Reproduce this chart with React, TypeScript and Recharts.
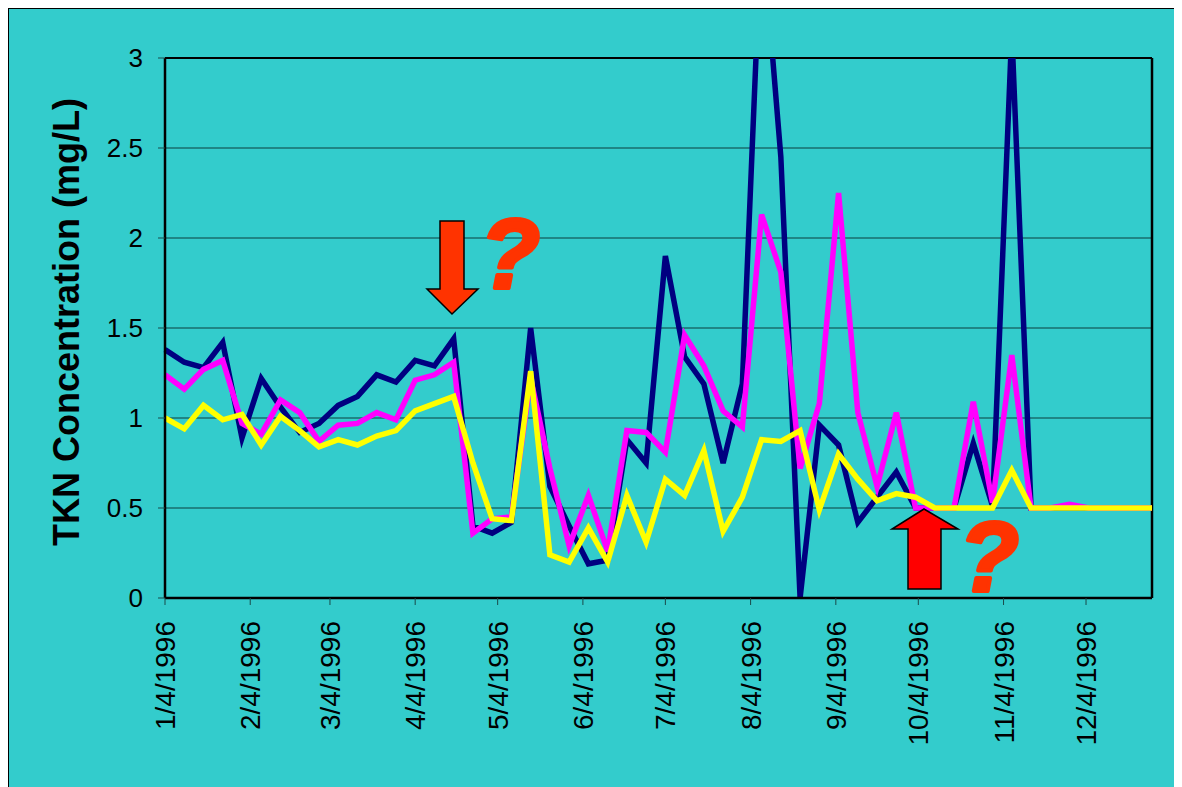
import React from "react";
import {
  LineChart,
  Line,
  XAxis,
  YAxis,
  CartesianGrid,
  ReferenceLine
} from "recharts";

// sampling dates (weekly)
const dates = [
  "1/4/1996", "1/11/1996", "1/18/1996", "1/25/1996",
  "2/1/1996", "2/8/1996", "2/15/1996", "2/22/1996", "2/29/1996",
  "3/7/1996", "3/14/1996", "3/21/1996", "3/28/1996",
  "4/4/1996", "4/11/1996", "4/18/1996", "4/25/1996",
  "5/2/1996", "5/9/1996", "5/16/1996", "5/23/1996", "5/30/1996",
  "6/6/1996", "6/13/1996", "6/20/1996", "6/27/1996",
  "7/4/1996", "7/11/1996", "7/18/1996", "7/25/1996",
  "8/1/1996", "8/8/1996", "8/15/1996", "8/22/1996", "8/29/1996",
  "9/5/1996", "9/12/1996", "9/19/1996", "9/26/1996",
  "10/3/1996", "10/10/1996", "10/17/1996", "10/24/1996", "10/31/1996",
  "11/7/1996", "11/14/1996", "11/21/1996", "11/28/1996",
  "12/5/1996", "12/12/1996", "12/19/1996", "12/28/1996"
];

const navySeries = [
  1.38, 1.31, 1.28, 1.42, 0.89, 1.22, 1.06, 0.92, 0.97, 1.07, 1.12, 1.24, 1.2,
  1.32, 1.29, 1.44, 0.4, 0.36, 0.42, 1.5, 0.62, 0.4, 0.19, 0.21, 0.88, 0.75,
  1.9, 1.34, 1.19, 0.75, 1.19, 3.75, 2.45, 0, 0.96, 0.85, 0.42, 0.56, 0.7,
  0.5, 0.5, 0.5, 0.86, 0.51, 3.15, 0.5, 0.5, 0.5, 0.5, 0.5, 0.5, 0.5
];

const magentaSeries = [
  1.24, 1.16, 1.27, 1.32, 0.97, 0.91, 1.1, 1.03, 0.87, 0.96, 0.97, 1.03, 0.99,
  1.21, 1.24, 1.31, 0.36, 0.44, 0.45, 1.22, 0.72, 0.29, 0.57, 0.26, 0.93, 0.92,
  0.81, 1.46, 1.29, 1.04, 0.95, 2.13, 1.81, 0.72, 1.08, 2.25, 1.03, 0.62, 1.03,
  0.5, 0.5, 0.5, 1.09, 0.53, 1.35, 0.5, 0.5, 0.52, 0.5, 0.5, 0.5, 0.5
];

const yellowSeries = [
  1.0, 0.94, 1.07, 0.99, 1.02, 0.85, 1.01, 0.93, 0.84, 0.88, 0.85, 0.9, 0.93,
  1.04, 1.08, 1.12, 0.75, 0.44, 0.43, 1.26, 0.24, 0.2, 0.39, 0.2, 0.57, 0.31,
  0.66, 0.57, 0.82, 0.37, 0.56, 0.88, 0.87, 0.93, 0.49, 0.8, 0.66, 0.54, 0.58,
  0.56, 0.5, 0.5, 0.5, 0.5, 0.71, 0.5, 0.5, 0.5, 0.5, 0.5, 0.5, 0.5
];

const tickLabels = [
  "1/4/1996", "2/4/1996", "3/4/1996", "4/4/1996", "5/4/1996", "6/4/1996",
  "7/4/1996", "8/4/1996", "9/4/1996", "10/4/1996", "11/4/1996", "12/4/1996"
];

const yTicks = [0, 0.5, 1, 1.5, 2, 2.5, 3];

const toTime = (s: string) => {
  const [m, d, y] = s.split("/").map(Number);
  return Date.UTC(y, m - 1, d);
};

const data = dates.map((d, i) => ({
  t: toTime(d),
  navy: navySeries[i],
  magenta: magentaSeries[i],
  yellow: yellowSeries[i]
}));

const tickTimes = tickLabels.map(toTime);
const labelByTime: Record<number, string> = {};
tickLabels.forEach((l) => (labelByTime[toTime(l)] = l));

const xMin = data[0].t;
const xMax = data[data.length - 1].t;

const FONT = "'Liberation Sans', Arial, sans-serif";

function DateTick({ x, y, payload }: any) {
  return (
    <text
      transform={`translate(${x},${y}) rotate(-90)`}
      textAnchor="end"
      dy="0.36em"
      fontSize={28}
      fontFamily={FONT}
      fill="#000"
    >
      {labelByTime[payload.value]}
    </text>
  );
}

export default function App() {
  return (
    <div
      style={{
        position: "relative",
        width: 1200,
        height: 800,
        background: "#33CCCC",
        borderTop: "1px solid #000",
        borderLeft: "1px solid #000",
        boxSizing: "border-box"
      }}
    >
      <style>{`html,body{overflow:hidden}`}</style>
      <LineChart
        width={1173}
        height={778}
        data={data}
        margin={{ top: 49, right: 30, bottom: 0, left: 0 }}
      >
        <CartesianGrid vertical={false} stroke="#0d3f3f" strokeWidth={1} />
        <XAxis
          dataKey="t"
          type="number"
          scale="time"
          domain={[xMin, xMax]}
          ticks={tickTimes}
          height={189}
          tick={<DateTick />}
          tickSize={7}
          tickMargin={16}
          axisLine={{ stroke: "#000", strokeWidth: 2.5 }}
          tickLine={{ stroke: "#1a4a4a" }}
          interval={0}
        />
        <YAxis
          domain={[0, 3]}
          ticks={yTicks}
          allowDataOverflow
          width={156}
          tickSize={7}
          tickMargin={15}
          axisLine={{ stroke: "#000", strokeWidth: 2.5 }}
          tickLine={{ stroke: "#1a4a4a" }}
          tick={{ fill: "#000", fontSize: 26, fontFamily: FONT }}
          label={{
            content: ({ viewBox }: any) => (
              <text
                transform={`translate(${viewBox.x + 57},${viewBox.y + viewBox.height / 2 - 6}) rotate(-90)`}
                textAnchor="middle"
                dominantBaseline="central"
                fontSize={36}
                fontWeight="bold"
                fontFamily={FONT}
                fill="#000"
              >
                TKN Concentration (mg/L)
              </text>
            )
          }}
        />
        <ReferenceLine y={3} stroke="#000" strokeWidth={2} />
        <ReferenceLine x={xMax} stroke="#000" strokeWidth={2.5} />
        <Line
          type="linear"
          dataKey="navy"
          stroke="#000080"
          strokeWidth={5.5}
          dot={false}
          isAnimationActive={false}
        />
        <Line
          type="linear"
          dataKey="magenta"
          stroke="#FF00FF"
          strokeWidth={5.5}
          dot={false}
          isAnimationActive={false}
        />
        <Line
          type="linear"
          dataKey="yellow"
          stroke="#FFFF00"
          strokeWidth={5.5}
          dot={false}
          isAnimationActive={false}
        />
      </LineChart>

      {/* annotations: arrows and question marks */}
      <svg
        width={1173}
        height={778}
        style={{ position: "absolute", left: 0, top: 0, pointerEvents: "none" }}
      >
        <g transform="translate(-9,-9)">
          <polygon
            points="440,221 464,221 464,289 478,289 452,314 427,289 440,289"
            fill="#FF3300"
            stroke="#000"
            strokeWidth={1.5}
          />
          <text
            x={480}
            y={288}
            fontSize={98}
            fontWeight="bold"
            fontStyle="italic"
            fontFamily={FONT}
            fill="#FF3300"
            stroke="#FF3300"
            strokeWidth={4}
            strokeLinejoin="round"
          >
            ?
          </text>
          <polygon
            points="924,509 958,529 941,529 941,589 908,589 908,529 892,529"
            fill="#FF0000"
            stroke="#000"
            strokeWidth={1.5}
          />
          <text
            x={959}
            y={591}
            fontSize={98}
            fontWeight="bold"
            fontStyle="italic"
            fontFamily={FONT}
            fill="#FF3300"
            stroke="#FF3300"
            strokeWidth={4}
            strokeLinejoin="round"
          >
            ?
          </text>
        </g>
      </svg>
    </div>
  );
}
